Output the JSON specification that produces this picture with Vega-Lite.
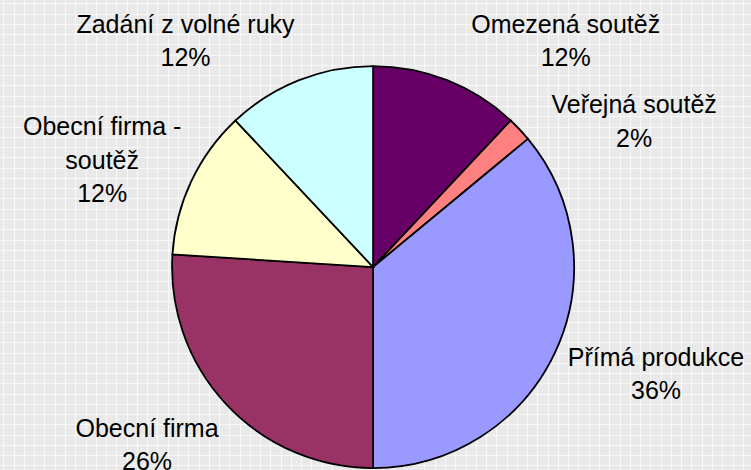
{
  "$schema": "https://vega.github.io/schema/vega-lite/v6.json",
  "width": 751,
  "height": 470,
  "autosize": {"type": "none"},
  "padding": 0,
  "background": "#e9e9e9",
  "config": {"view": {"stroke": null, "fill": "#e9e9e9"}},
  "data": {
    "values": [
      {"kategorie": "Omezená soutěž", "podil": 12, "poradi": 1, "popisek": "Omezená soutěž\n12%"},
      {"kategorie": "Veřejná soutěž", "podil": 2, "poradi": 2, "popisek": "Veřejná soutěž\n2%"},
      {"kategorie": "Přímá produkce", "podil": 36, "poradi": 3, "popisek": "Přímá produkce\n36%"},
      {"kategorie": "Obecní firma", "podil": 26, "poradi": 4, "popisek": "Obecní firma\n26%"},
      {"kategorie": "Obecní firma - soutěž", "podil": 12, "poradi": 5, "popisek": "Obecní firma -\nsoutěž\n12%"},
      {"kategorie": "Zadání z volné ruky", "podil": 12, "poradi": 6, "popisek": "Zadání z volné ruky\n12%"}
    ]
  },
  "layer": [
    {
      "mark": {"type": "point", "opacity": 0},
      "encoding": {
        "x": {
          "datum": 0, "type": "quantitative",
          "scale": {"domain": [-0.33, 72.8], "nice": false, "zero": false},
          "axis": {"grid": true, "gridColor": "#f8f8f8", "gridOpacity": 1, "gridWidth": 1, "tickCount": 80, "labels": false, "ticks": false, "domain": false, "title": null, "minExtent": 0, "maxExtent": 0}
        },
        "y": {
          "datum": 0, "type": "quantitative",
          "scale": {"domain": [-0.32, 45.44], "nice": false, "zero": false, "reverse": true},
          "axis": {"grid": true, "gridColor": "#f8f8f8", "gridOpacity": 1, "gridWidth": 1, "tickCount": 50, "labels": false, "ticks": false, "domain": false, "title": null, "minExtent": 0, "maxExtent": 0}
        }
      }
    },
    {
      "mark": {"type": "arc", "outerRadius": 201, "stroke": "#000000", "strokeWidth": 1.8},
      "encoding": {
        "x": {"datum": 36, "type": "quantitative"},
        "y": {"datum": 25.68, "type": "quantitative"},
        "theta": {"field": "podil", "type": "quantitative", "stack": true},
        "order": {"field": "poradi", "type": "quantitative"},
        "color": {
          "field": "kategorie", "type": "nominal", "legend": null,
          "scale": {
            "domain": ["Omezená soutěž", "Veřejná soutěž", "Přímá produkce", "Obecní firma", "Obecní firma - soutěž", "Zadání z volné ruky"],
            "range": ["#660066", "#ff8080", "#9999ff", "#993366", "#ffffcc", "#ccffff"]
          }
        }
      }
    },
    {
      "mark": {"type": "text", "radius": 295, "dx": 84, "dy": 40, "font": "Liberation Sans", "fontSize": 25, "lineHeight": 33.5, "lineBreak": "\n", "align": "center", "baseline": "alphabetic", "color": "#000000"},
      "encoding": {
        "x": {"datum": 36, "type": "quantitative"},
        "y": {"datum": 25.68, "type": "quantitative"},
        "theta": {"field": "podil", "type": "quantitative", "stack": true},
        "order": {"field": "poradi", "type": "quantitative"},
        "text": {"condition": {"test": "datum.kategorie === 'Omezená soutěž'", "field": "popisek"}, "value": ""}
      }
    },
    {
      "mark": {"type": "text", "radius": 295, "dx": 46, "dy": 48, "font": "Liberation Sans", "fontSize": 25, "lineHeight": 33.5, "lineBreak": "\n", "align": "center", "baseline": "alphabetic", "color": "#000000"},
      "encoding": {
        "x": {"datum": 36, "type": "quantitative"},
        "y": {"datum": 25.68, "type": "quantitative"},
        "theta": {"field": "podil", "type": "quantitative", "stack": true},
        "order": {"field": "poradi", "type": "quantitative"},
        "text": {"condition": {"test": "datum.kategorie === 'Veřejná soutěž'", "field": "popisek"}, "value": ""}
      }
    },
    {
      "mark": {"type": "text", "radius": 295, "dx": 16, "dy": -27, "font": "Liberation Sans", "fontSize": 25, "lineHeight": 33.5, "lineBreak": "\n", "align": "center", "baseline": "alphabetic", "color": "#000000"},
      "encoding": {
        "x": {"datum": 36, "type": "quantitative"},
        "y": {"datum": 25.68, "type": "quantitative"},
        "theta": {"field": "podil", "type": "quantitative", "stack": true},
        "order": {"field": "poradi", "type": "quantitative"},
        "text": {"condition": {"test": "datum.kategorie === 'Přímá produkce'", "field": "popisek"}, "value": ""}
      }
    },
    {
      "mark": {"type": "text", "radius": 295, "dx": -11, "dy": -32, "font": "Liberation Sans", "fontSize": 25, "lineHeight": 33.5, "lineBreak": "\n", "align": "center", "baseline": "alphabetic", "color": "#000000"},
      "encoding": {
        "x": {"datum": 36, "type": "quantitative"},
        "y": {"datum": 25.68, "type": "quantitative"},
        "theta": {"field": "podil", "type": "quantitative", "stack": true},
        "order": {"field": "poradi", "type": "quantitative"},
        "text": {"condition": {"test": "datum.kategorie === 'Obecní firma'", "field": "popisek"}, "value": ""}
      }
    },
    {
      "mark": {"type": "text", "radius": 295, "dx": -4, "dy": -6, "font": "Liberation Sans", "fontSize": 25, "lineHeight": 33.5, "lineBreak": "\n", "align": "center", "baseline": "alphabetic", "color": "#000000"},
      "encoding": {
        "x": {"datum": 36, "type": "quantitative"},
        "y": {"datum": 25.68, "type": "quantitative"},
        "theta": {"field": "podil", "type": "quantitative", "stack": true},
        "order": {"field": "poradi", "type": "quantitative"},
        "text": {"condition": {"test": "datum.kategorie === 'Obecní firma - soutěž'", "field": "popisek"}, "value": ""}
      }
    },
    {
      "mark": {"type": "text", "radius": 295, "dx": -79, "dy": 40, "font": "Liberation Sans", "fontSize": 25, "lineHeight": 33.5, "lineBreak": "\n", "align": "center", "baseline": "alphabetic", "color": "#000000"},
      "encoding": {
        "x": {"datum": 36, "type": "quantitative"},
        "y": {"datum": 25.68, "type": "quantitative"},
        "theta": {"field": "podil", "type": "quantitative", "stack": true},
        "order": {"field": "poradi", "type": "quantitative"},
        "text": {"condition": {"test": "datum.kategorie === 'Zadání z volné ruky'", "field": "popisek"}, "value": ""}
      }
    }
  ]
}
